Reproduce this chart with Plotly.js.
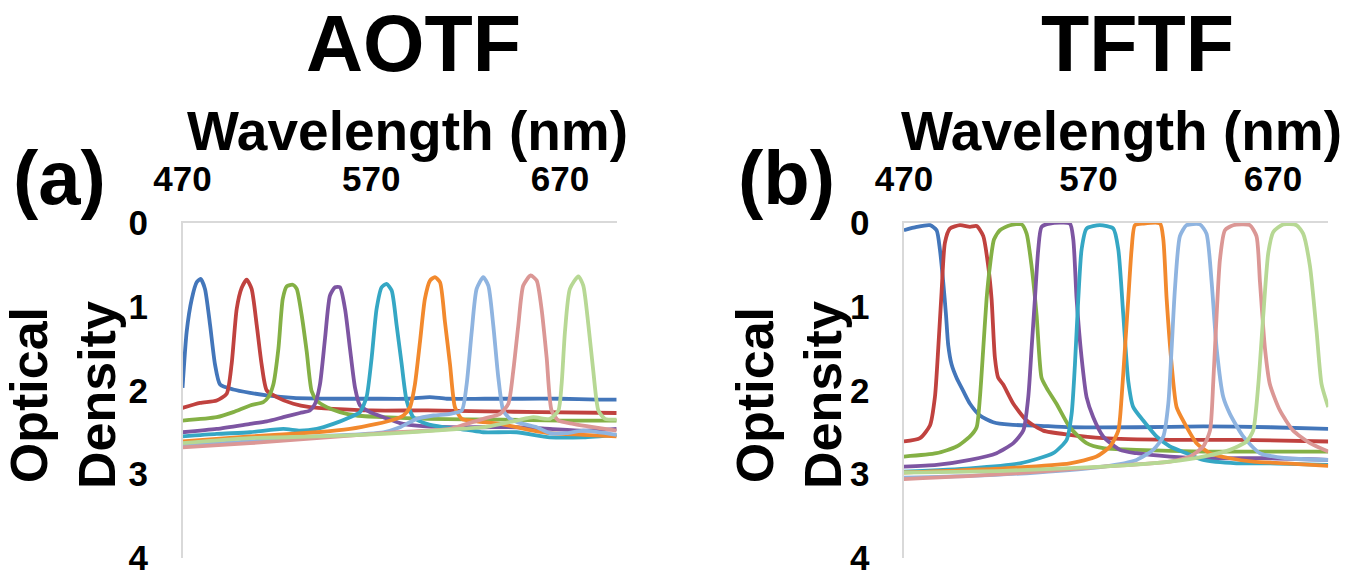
<!DOCTYPE html>
<html>
<head>
<meta charset="utf-8">
<script src="https://cdn.plot.ly/plotly-3.0.1.min.js"></script>
<style>html,body{margin:0;padding:0;background:#fff;}#chart{width:1353px;height:579px;}</style>
</head>
<body>
<div id="chart"></div>
<script>
// ---------- data (wavelength in nm, optical density) ----------
const panelTitles = ["AOTF", "TFTF"];
const panelLabels = ["(a)", "(b)"];
const xAxisTitle = "Wavelength (nm)";
const yAxisTitle = "Optical<br>Density";
const xTickVals = [470, 570, 670];
const yTickVals = [0, 1, 2, 3, 4];
const seriesColors = ["#4376BA", "#C0423F", "#84B045", "#7D55A2", "#35A7C4", "#F2892D", "#8FB4E0", "#DB9795", "#B7D894"];

// Panel (a) AOTF
const aotf1_x = [470, 472.2, 474.9, 477.5, 479.6, 481.9, 484.6, 487.2, 489.9, 496.9, 505.8, 514.6, 528.7, 550, 570, 590, 601, 610, 630, 650, 670, 690, 700];
const aotf1_y = [1.97, 1.30, 0.91, 0.71, 0.67, 0.79, 1.22, 1.69, 1.93, 1.99, 2.03, 2.06, 2.09, 2.10, 2.10, 2.10, 2.08, 2.10, 2.10, 2.10, 2.10, 2.11, 2.11];
const aotf2_x = [470, 479.3, 488.1, 493.4, 496.0, 498.7, 501.3, 504.0, 506.6, 509.3, 511.9, 514.6, 519.9, 528.7, 537.5, 549.9, 570, 600, 630, 660, 700];
const aotf2_y = [2.21, 2.15, 2.12, 2.04, 1.69, 1.03, 0.78, 0.68, 0.79, 1.22, 1.69, 2.00, 2.08, 2.16, 2.20, 2.22, 2.24, 2.24, 2.25, 2.26, 2.27];
const aotf3_x = [470, 488.1, 496.9, 505.8, 512.8, 515.5, 518.1, 520.8, 523.1, 525.2, 528.4, 530.5, 533.1, 535.8, 538.4, 541.1, 546.4, 553.4, 562.2, 576.4, 600, 640, 670, 700];
const aotf3_y = [2.36, 2.32, 2.26, 2.18, 2.14, 2.08, 1.93, 1.50, 0.91, 0.76, 0.74, 0.79, 1.10, 1.54, 2.01, 2.12, 2.20, 2.26, 2.30, 2.32, 2.34, 2.35, 2.36, 2.36];
const aotf4_x = [470, 488.1, 505.8, 514.6, 523.4, 532.2, 537.5, 540.2, 542.8, 545.5, 548.1, 550.8, 553.4, 556.1, 558.7, 561.4, 564.0, 569.3, 576.4, 585.2, 594.0, 611.7, 629.3, 647, 664.6, 682.3, 700];
const aotf4_y = [2.50, 2.46, 2.40, 2.37, 2.32, 2.27, 2.24, 2.16, 1.93, 1.38, 0.87, 0.77, 0.77, 1.03, 1.50, 1.97, 2.18, 2.26, 2.32, 2.39, 2.42, 2.44, 2.44, 2.44, 2.46, 2.48, 2.46];
const aotf5_x = [470, 488.1, 505.8, 523.4, 532.2, 541.1, 549.9, 558.7, 564.0, 567.5, 570.2, 572.8, 575.5, 578.1, 580.8, 583.4, 586.1, 588.7, 592.3, 599.3, 608.1, 620.5, 629.3, 647, 664.6, 682.3, 700];
const aotf5_y = [2.55, 2.52, 2.50, 2.46, 2.48, 2.46, 2.40, 2.32, 2.26, 2.08, 1.61, 1.03, 0.77, 0.73, 0.81, 1.22, 1.69, 2.12, 2.32, 2.40, 2.44, 2.47, 2.50, 2.50, 2.56, 2.56, 2.53];
const aotf6_x = [470, 505.8, 541.1, 558.7, 572.8, 581.7, 587.0, 590.5, 593.1, 595.8, 598.4, 601.1, 603.7, 606.4, 609.0, 611.7, 614.3, 617.9, 625.8, 638.2, 647.0, 655.8, 664.6, 682.3, 700];
const aotf6_y = [2.61, 2.55, 2.50, 2.46, 2.40, 2.35, 2.30, 2.20, 1.93, 1.42, 0.91, 0.69, 0.65, 0.71, 1.18, 1.69, 2.20, 2.34, 2.37, 2.40, 2.44, 2.48, 2.51, 2.53, 2.55];
const aotf7_x = [470, 505.8, 541.1, 576.4, 585.2, 594.0, 602.9, 611.7, 617.9, 620.5, 623.2, 625.8, 629.3, 632.0, 634.6, 637.3, 639.9, 643.5, 650.5, 657.6, 664.6, 673.5, 682.3, 700];
const aotf7_y = [2.66, 2.61, 2.55, 2.50, 2.44, 2.34, 2.30, 2.28, 2.24, 1.93, 1.30, 0.79, 0.65, 0.75, 1.22, 1.85, 2.24, 2.34, 2.40, 2.44, 2.51, 2.51, 2.48, 2.53];
const aotf8_x = [470, 505.8, 541.1, 576.4, 611.7, 620.5, 629.3, 638.2, 642.6, 645.2, 647.9, 650.5, 654.4, 657.6, 660.2, 662.9, 665.5, 669.1, 677.0, 687.6, 700];
const aotf8_y = [2.68, 2.63, 2.57, 2.51, 2.46, 2.40, 2.34, 2.28, 2.16, 1.77, 1.22, 0.75, 0.63, 0.69, 1.03, 1.61, 2.24, 2.36, 2.40, 2.44, 2.48];
const aotf9_x = [470, 505.8, 541.1, 576.4, 603.7, 629.3, 647.0, 655.8, 664.6, 669.1, 670.8, 672.6, 675.2, 679.7, 682.3, 685.0, 687.6, 690.3, 693.8, 700];
const aotf9_y = [2.63, 2.57, 2.55, 2.52, 2.48, 2.44, 2.36, 2.32, 2.34, 2.24, 1.93, 1.30, 0.79, 0.64, 0.75, 1.22, 1.77, 2.24, 2.34, 2.35];

// Panel (b) TFTF
const tftf1_x = [470, 476.9, 484.1, 487.7, 489.5, 491.3, 492.8, 494.0, 495.8, 498.5, 502.2, 505.8, 511.2, 518.4, 527.5, 541.9, 559.9, 596.1, 632.2, 668.4, 700];
const tftf1_y = [0.09, 0.05, 0.03, 0.09, 0.32, 0.71, 1.10, 1.46, 1.69, 1.85, 2.01, 2.16, 2.30, 2.38, 2.41, 2.42, 2.44, 2.44, 2.43, 2.44, 2.46];
const tftf2_x = [470, 478.7, 484.1, 486.8, 488.6, 490.4, 492.2, 494.9, 500.4, 505.8, 509.4, 513.0, 515.7, 517.5, 519.3, 521.1, 523.8, 529.3, 536.5, 545.5, 559.9, 578.0, 614.2, 650.3, 700];
const tftf2_y = [2.61, 2.57, 2.42, 2.08, 1.50, 0.83, 0.24, 0.07, 0.03, 0.05, 0.04, 0.16, 0.52, 0.91, 1.61, 1.85, 1.93, 2.16, 2.36, 2.48, 2.53, 2.57, 2.59, 2.59, 2.61];
const tftf3_x = [470, 487.7, 498.5, 505.8, 509.4, 511.2, 513.0, 514.8, 516.6, 518.8, 522.0, 527.5, 533.8, 536.5, 539.2, 541.9, 544.6, 547.3, 552.7, 559.9, 569.0, 578.0, 596.1, 632.2, 668.4, 700];
const tftf3_y = [2.79, 2.75, 2.67, 2.55, 2.44, 2.08, 1.50, 0.91, 0.52, 0.20, 0.09, 0.03, 0.02, 0.13, 0.52, 1.10, 1.85, 1.97, 2.16, 2.44, 2.63, 2.69, 2.71, 2.73, 2.73, 2.73];
const tftf4_x = [470, 487.7, 505.8, 520.2, 529.3, 534.7, 537.4, 539.2, 541.0, 542.8, 544.6, 549.1, 559.9, 561.8, 563.6, 566.3, 569.0, 572.6, 578.0, 587.1, 596.1, 614.2, 632.2, 668.4, 700];
const tftf4_y = [2.91, 2.89, 2.83, 2.75, 2.63, 2.48, 2.08, 1.50, 0.91, 0.32, 0.05, 0.01, 0.01, 0.20, 0.91, 1.61, 2.08, 2.32, 2.55, 2.71, 2.75, 2.79, 2.81, 2.81, 2.83];
const tftf5_x = [470, 505.8, 532.9, 550.9, 558.2, 560.9, 562.7, 564.5, 566.3, 569.0, 576.2, 583.5, 586.2, 588.9, 591.6, 594.3, 599.7, 606.9, 614.2, 623.2, 632.2, 650.3, 668.4, 700];
const tftf5_y = [2.97, 2.93, 2.87, 2.75, 2.59, 2.28, 1.69, 0.91, 0.32, 0.07, 0.03, 0.07, 0.32, 1.10, 1.89, 2.20, 2.36, 2.55, 2.67, 2.75, 2.83, 2.87, 2.87, 2.89];
const tftf6_x = [470, 523.8, 559.9, 574.4, 581.7, 586.2, 588.0, 589.8, 591.6, 593.4, 595.2, 599.7, 608.8, 610.6, 612.4, 615.1, 617.8, 622.3, 628.6, 635.9, 646.7, 659.3, 677.4, 700];
const tftf6_y = [2.98, 2.93, 2.87, 2.79, 2.67, 2.48, 2.08, 1.50, 0.91, 0.32, 0.03, 0.01, 0.01, 0.20, 0.91, 1.69, 2.20, 2.40, 2.63, 2.75, 2.81, 2.85, 2.87, 2.90];
const tftf7_x = [470, 505.8, 541.9, 578.0, 596.1, 605.1, 610.6, 613.3, 615.1, 616.9, 619.6, 623.2, 630.4, 634.0, 636.8, 639.5, 643.1, 646.7, 653.9, 663.0, 677.4, 700];
const tftf7_y = [3.04, 3.02, 2.98, 2.91, 2.83, 2.71, 2.55, 2.16, 1.50, 0.79, 0.16, 0.03, 0.02, 0.13, 0.71, 1.50, 2.08, 2.28, 2.55, 2.75, 2.81, 2.83];
const tftf8_x = [470, 523.8, 578.0, 614.2, 625.0, 632.2, 635.9, 637.7, 639.5, 641.3, 644.0, 648.5, 657.5, 661.1, 663.0, 665.7, 668.4, 673.8, 681.0, 690.1, 700];
const tftf8_y = [3.06, 3.00, 2.91, 2.85, 2.79, 2.67, 2.48, 1.89, 1.10, 0.44, 0.09, 0.03, 0.03, 0.16, 0.71, 1.50, 1.93, 2.24, 2.48, 2.63, 2.73];
const tftf9_x = [470, 523.8, 578.0, 614.2, 632.2, 646.7, 655.7, 659.3, 662.1, 664.8, 667.5, 670.2, 675.6, 682.8, 686.4, 690.1, 693.7, 696.4, 700];
const tftf9_y = [2.98, 2.96, 2.91, 2.85, 2.79, 2.71, 2.61, 2.48, 1.93, 1.10, 0.36, 0.11, 0.02, 0.03, 0.13, 0.52, 1.30, 1.93, 2.20];

// ---------- build ----------
const FONT = "Arial, 'Liberation Sans', sans-serif";
const aSeries = [[aotf1_x, aotf1_y], [aotf2_x, aotf2_y], [aotf3_x, aotf3_y], [aotf4_x, aotf4_y], [aotf5_x, aotf5_y], [aotf6_x, aotf6_y], [aotf7_x, aotf7_y], [aotf8_x, aotf8_y], [aotf9_x, aotf9_y]];
const bSeries = [[tftf1_x, tftf1_y], [tftf2_x, tftf2_y], [tftf3_x, tftf3_y], [tftf4_x, tftf4_y], [tftf5_x, tftf5_y], [tftf6_x, tftf6_y], [tftf7_x, tftf7_y], [tftf8_x, tftf8_y], [tftf9_x, tftf9_y]];

const traces = [];
aSeries.forEach((s, i) => traces.push({
  x: s[0], y: s[1], xaxis: 'x', yaxis: 'y', mode: 'lines', type: 'scatter',
  line: {color: seriesColors[i], width: 3.8, shape: 'spline', smoothing: 0.6}, hoverinfo: 'skip'
}));
bSeries.forEach((s, i) => traces.push({
  x: s[0], y: s[1], xaxis: 'x2', yaxis: 'y2', mode: 'lines', type: 'scatter',
  line: {color: seriesColors[i], width: 3.8, shape: 'spline', smoothing: 0.6}, hoverinfo: 'skip'
}));

function xAxis(domain, anchor) {
  return {
    domain: domain, anchor: anchor, side: 'top', range: [470, 700],
    tickvals: xTickVals, ticktext: xTickVals.map(String), ticks: '', ticklabelstandoff: 16,
    ticklabeloverflow: 'allow',
    showgrid: false, zeroline: false, showline: true, linecolor: '#d9d9d9', linewidth: 1.5, mirror: false,
    tickfont: {family: FONT, size: 35, color: '#000', weight: 'bold'},
    fixedrange: true
  };
}
function yAxis(domain, anchor) {
  return {
    domain: domain, anchor: anchor, range: [4, 0],
    tickvals: yTickVals, ticktext: yTickVals.map(String), ticks: '', ticklabelstandoff: 26,
    ticklabeloverflow: 'allow',
    showgrid: false, zeroline: false, showline: true, linecolor: '#d9d9d9', linewidth: 1.5, mirror: false,
    tickfont: {family: FONT, size: 35, color: '#000', weight: 'bold'},
    fixedrange: true
  };
}

function txt(text, xpx, ypx, size, angle) {
  return {text: text, xref: 'paper', yref: 'paper', x: xpx / 1353, y: 1 - ypx / 579,
    xanchor: 'center', yanchor: 'middle', showarrow: false, textangle: angle || 0, align: 'center',
    font: {family: FONT, size: size, color: '#000', weight: 'bold'}};
}

const yDom = [1 - 558 / 579, 1 - 222.7 / 579];

const layout = {
  width: 1353, height: 579,
  margin: {l: 0, r: 0, t: 0, b: 0},
  paper_bgcolor: '#fff', plot_bgcolor: '#fff',
  showlegend: false,
  xaxis: xAxis([0.1349, 0.4558], 'y'),
  yaxis: yAxis(yDom, 'x'),
  xaxis2: xAxis([0.6681, 0.9817], 'y2'),
  yaxis2: yAxis(yDom, 'x2'),
  annotations: [
    txt(panelTitles[0], 413, 44, 79),
    txt(panelTitles[1], 1137, 44, 79),
    txt(panelLabels[0], 59, 177, 76),
    txt(panelLabels[1], 786, 177, 76),
    txt(xAxisTitle, 407, 131, 55),
    txt(xAxisTitle, 1121, 131, 55),
    txt(yAxisTitle, 63, 395, 52, -90),
    txt(yAxisTitle, 789, 395, 52, -90)
  ]
};

Plotly.newPlot('chart', traces, layout, {displayModeBar: false, staticPlot: true});
</script>
</body>
</html>
